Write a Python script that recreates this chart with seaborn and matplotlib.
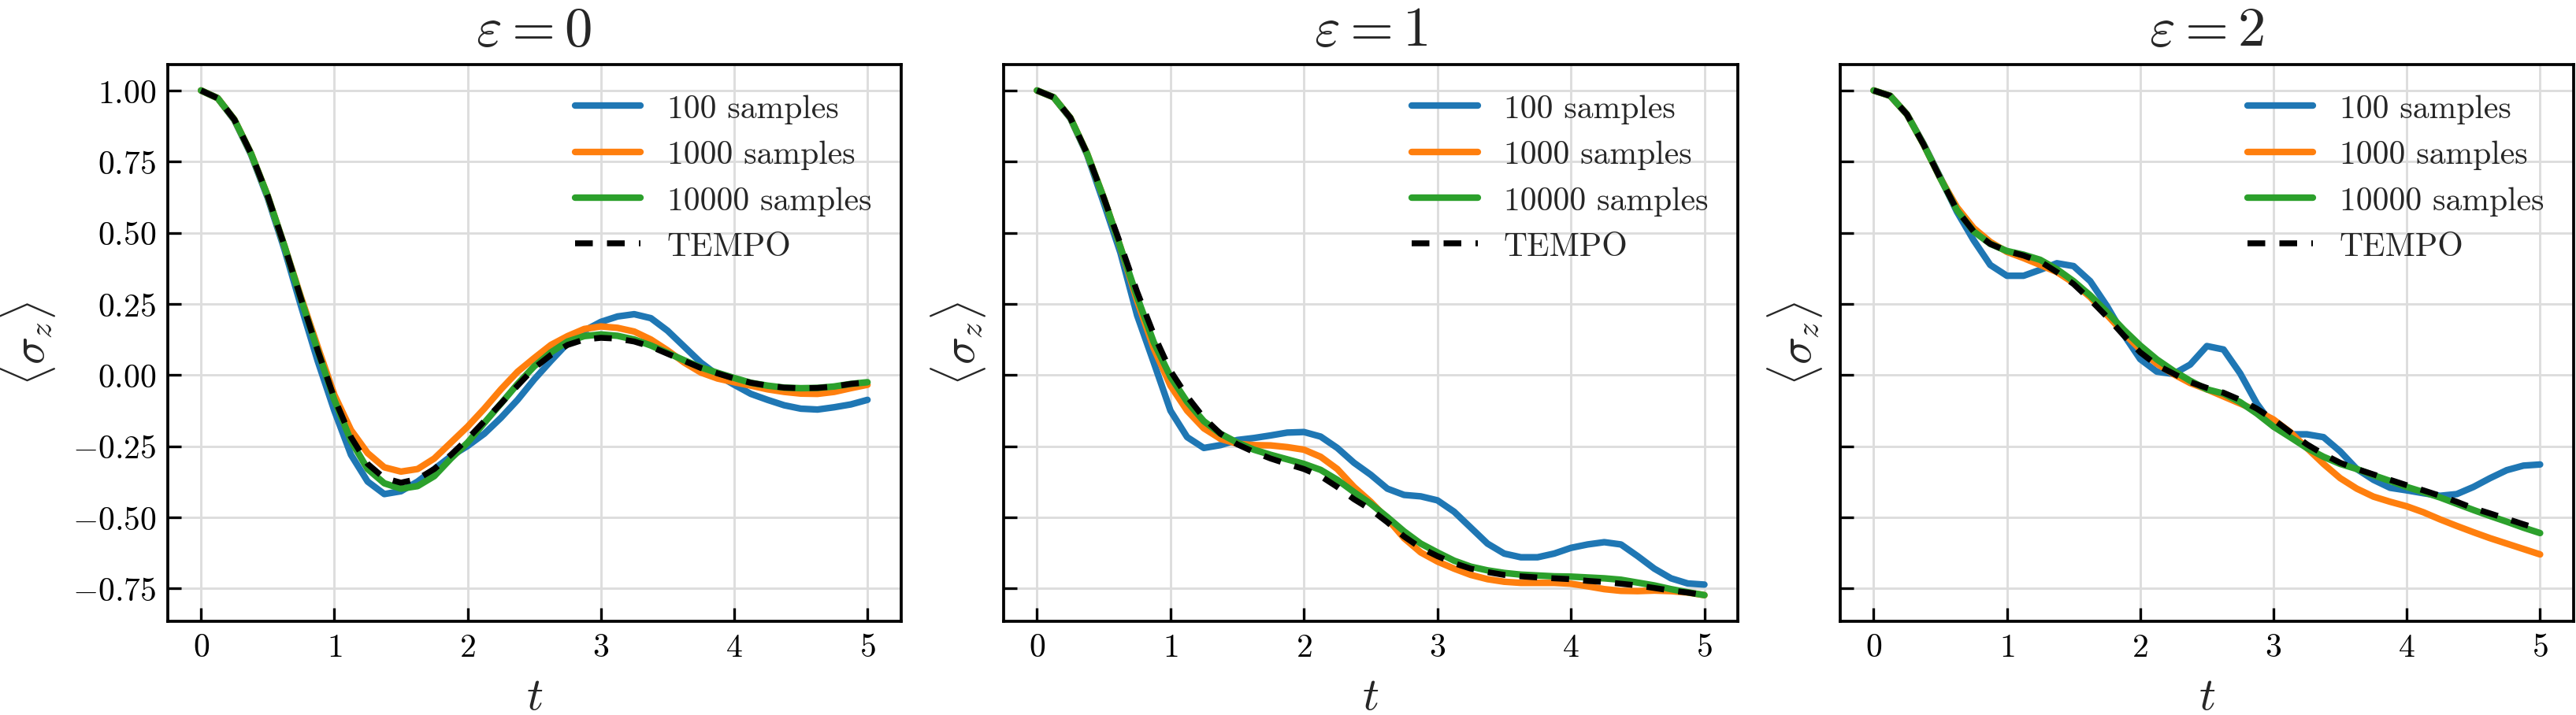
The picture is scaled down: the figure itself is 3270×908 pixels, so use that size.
import numpy as np
import pandas as pd
import matplotlib
matplotlib.use("Agg")
import matplotlib.pyplot as plt
import seaborn as sns

# ---------------- data ----------------
t = [i * 0.125 for i in range(41)]

eps_titles = [r"$\varepsilon=0$", r"$\varepsilon=1$", r"$\varepsilon=2$"]
series_labels = ["100 samples", "1000 samples", "10000 samples", "TEMPO"]

# eps = 0
e0_100 = [1.0, 0.973, 0.896, 0.775, 0.623, 0.443, 0.243, 0.05, -0.125, -0.28,
          -0.374, -0.418, -0.408, -0.374, -0.33, -0.285, -0.249, -0.206, -0.15, -0.087,
          -0.015, 0.05, 0.112, 0.156, 0.187, 0.206, 0.214, 0.2, 0.156, 0.1,
          0.044, 0.0, -0.034, -0.066, -0.087, -0.106, -0.118, -0.121, -0.113, -0.103,
          -0.087]
e0_1000 = [1.0, 0.973, 0.898, 0.779, 0.63, 0.455, 0.274, 0.1, -0.069, -0.193,
           -0.274, -0.324, -0.339, -0.33, -0.293, -0.237, -0.181, -0.118, -0.05, 0.012,
           0.06, 0.106, 0.137, 0.162, 0.171, 0.166, 0.153, 0.125, 0.087, 0.044,
           0.009, -0.012, -0.025, -0.037, -0.05, -0.059, -0.065, -0.066, -0.059, -0.046,
           -0.034]
e0_10000 = [1.0, 0.973, 0.898, 0.779, 0.63, 0.455, 0.268, 0.087, -0.087, -0.231,
            -0.33, -0.38, -0.399, -0.39, -0.355, -0.293, -0.237, -0.168, -0.1, -0.031,
            0.031, 0.08, 0.118, 0.137, 0.143, 0.138, 0.125, 0.104, 0.078, 0.052,
            0.027, 0.008, -0.01, -0.027, -0.037, -0.044, -0.046, -0.045, -0.04, -0.031,
            -0.025]
e0_tempo = [1.0, 0.973, 0.898, 0.779, 0.63, 0.455, 0.268, 0.087, -0.081, -0.218,
            -0.312, -0.362, -0.378, -0.365, -0.33, -0.28, -0.224, -0.162, -0.1, -0.037,
            0.025, 0.071, 0.106, 0.125, 0.131, 0.128, 0.118, 0.1, 0.075, 0.05,
            0.025, 0.006, -0.012, -0.027, -0.037, -0.044, -0.046, -0.045, -0.04, -0.031,
            -0.025]

# eps = 1
e1_100 = [1.0, 0.976, 0.902, 0.775, 0.605, 0.43, 0.21, 0.044, -0.125, -0.218,
          -0.256, -0.246, -0.228, -0.221, -0.212, -0.202, -0.2, -0.216, -0.256, -0.308,
          -0.35, -0.399, -0.421, -0.426, -0.44, -0.48, -0.536, -0.592, -0.627, -0.64,
          -0.64, -0.627, -0.607, -0.595, -0.587, -0.595, -0.636, -0.68, -0.714, -0.732,
          -0.736]
e1_1000 = [1.0, 0.976, 0.904, 0.779, 0.623, 0.45, 0.262, 0.094, -0.037, -0.125,
           -0.187, -0.224, -0.241, -0.246, -0.247, -0.253, -0.262, -0.287, -0.33, -0.393,
           -0.445, -0.505, -0.573, -0.623, -0.655, -0.68, -0.702, -0.717, -0.726, -0.73,
           -0.73, -0.73, -0.733, -0.742, -0.752, -0.758, -0.759, -0.757, -0.759, -0.764,
           -0.773]
e1_10000 = [1.0, 0.976, 0.904, 0.779, 0.623, 0.45, 0.275, 0.115, -0.006, -0.094,
            -0.162, -0.206, -0.237, -0.262, -0.28, -0.296, -0.312, -0.333, -0.368, -0.411,
            -0.452, -0.499, -0.549, -0.592, -0.623, -0.652, -0.673, -0.686, -0.695, -0.701,
            -0.704, -0.707, -0.708, -0.711, -0.714, -0.719, -0.729, -0.739, -0.752, -0.763,
            -0.773]
e1_tempo = [1.0, 0.976, 0.904, 0.779, 0.623, 0.461, 0.293, 0.143, 0.015, -0.075,
            -0.15, -0.206, -0.243, -0.27, -0.293, -0.312, -0.33, -0.355, -0.393, -0.436,
            -0.472, -0.517, -0.567, -0.607, -0.636, -0.661, -0.68, -0.692, -0.702, -0.707,
            -0.711, -0.714, -0.717, -0.723, -0.727, -0.733, -0.739, -0.748, -0.757, -0.764,
            -0.773]

# eps = 2
e2_100 = [1.0, 0.981, 0.916, 0.812, 0.695, 0.574, 0.474, 0.387, 0.349, 0.349,
          0.37, 0.393, 0.383, 0.33, 0.243, 0.143, 0.056, 0.012, 0.004, 0.037,
          0.102, 0.09, 0.006, -0.1, -0.18, -0.208, -0.208, -0.218, -0.268, -0.33,
          -0.368, -0.396, -0.405, -0.415, -0.424, -0.418, -0.393, -0.362, -0.334, -0.318,
          -0.314]
e2_1000 = [1.0, 0.981, 0.916, 0.81, 0.692, 0.59, 0.517, 0.468, 0.433, 0.411,
           0.387, 0.362, 0.324, 0.274, 0.212, 0.148, 0.09, 0.04, 0.003, -0.028,
           -0.05, -0.075, -0.1, -0.125, -0.156, -0.2, -0.256, -0.312, -0.362, -0.399,
           -0.427, -0.445, -0.461, -0.482, -0.507, -0.53, -0.552, -0.573, -0.592, -0.611,
           -0.63]
e2_10000 = [1.0, 0.981, 0.916, 0.81, 0.692, 0.58, 0.505, 0.461, 0.436, 0.423,
            0.405, 0.372, 0.33, 0.28, 0.222, 0.16, 0.104, 0.055, 0.015, -0.02,
            -0.05, -0.065, -0.095, -0.135, -0.181, -0.218, -0.256, -0.287, -0.312, -0.33,
            -0.352, -0.372, -0.393, -0.411, -0.43, -0.452, -0.474, -0.495, -0.515, -0.536,
            -0.555]
e2_tempo = [1.0, 0.981, 0.916, 0.81, 0.692, 0.58, 0.505, 0.461, 0.436, 0.42,
            0.399, 0.362, 0.32, 0.265, 0.205, 0.14, 0.08, 0.035, 0.005, -0.025,
            -0.045, -0.062, -0.087, -0.118, -0.156, -0.2, -0.243, -0.278, -0.308, -0.33,
            -0.349, -0.368, -0.387, -0.405, -0.424, -0.445, -0.468, -0.486, -0.505, -0.524,
            -0.542]

panels = [
    [e0_100, e0_1000, e0_10000, e0_tempo],
    [e1_100, e1_1000, e1_10000, e1_tempo],
    [e2_100, e2_1000, e2_10000, e2_tempo],
]

x_ticks = [0, 1, 2, 3, 4, 5]
y_ticks = [-0.75, -0.5, -0.25, 0.0, 0.25, 0.5, 0.75, 1.0]

# ---------------- style ----------------
sns.set_theme(style="whitegrid")
plt.rcParams.update({
    "font.family": ["cmr10", "DejaVu Serif"],
    "mathtext.fontset": "cm",
    "axes.formatter.use_mathtext": True,
    "axes.edgecolor": "black",
    "axes.linewidth": 0.9,
    "grid.color": "#dddddd",
    "grid.linewidth": 0.7,
    "xtick.direction": "in",
    "ytick.direction": "in",
    "xtick.bottom": True,
    "ytick.left": True,
    "xtick.major.size": 4,
    "ytick.major.size": 4,
    "xtick.major.width": 0.8,
    "ytick.major.width": 0.8,
    "xtick.color": "black",
    "ytick.color": "black",
    "xtick.labelsize": 10,
    "ytick.labelsize": 10,
    "axes.unicode_minus": True,
})

colors = ["#1f77b4", "#ff7f0e", "#2ca02c", "black"]

fig = plt.figure(figsize=(10.9, 3.03), dpi=300)
bottom, height = 0.1309, 0.7778
lefts = [0.0651, 0.3896, 0.7144]
widths = [0.2846, 0.2850, 0.2846]
label_x = [-0.150, -0.0215, -0.022]

axes = []
for i in range(3):
    ax = fig.add_axes([lefts[i], bottom, widths[i], height])
    axes.append(ax)
    for j, (vals, lab) in enumerate(zip(panels[i], series_labels)):
        df = pd.DataFrame({"t": t, "v": vals})
        if lab == "TEMPO":
            sns.lineplot(data=df, x="t", y="v", ax=ax, color=colors[j], lw=1.8,
                         linestyle=(0, (3.0, 2.4)), label=lab, zorder=5)
        else:
            sns.lineplot(data=df, x="t", y="v", ax=ax, color=colors[j], lw=2.0,
                         label=lab, zorder=3 + j * 0.1)
    ax.set_xlim(-0.25, 5.25)
    ax.set_ylim(-0.865, 1.091)
    ax.set_xticks(x_ticks)
    ax.set_yticks(y_ticks)
    if i > 0:
        ax.tick_params(axis="y", labelleft=False)
    ax.tick_params(axis="both", which="major", pad=3.5)
    ax.set_title(eps_titles[i], fontsize=17, pad=6)
    ax.set_xlabel(r"$t$", fontsize=14)
    ax.xaxis.set_label_coords(0.5, -0.10)
    ax.set_ylabel(r"$\langle\sigma_z\rangle$", fontsize=14)
    ax.yaxis.set_label_coords(label_x[i], 0.5)
    ax.legend(loc="upper right", frameon=False, fontsize=10)
    for sp in ax.spines.values():
        sp.set_color("black")
        sp.set_linewidth(0.9)

fig.savefig("out.png", dpi=300)
